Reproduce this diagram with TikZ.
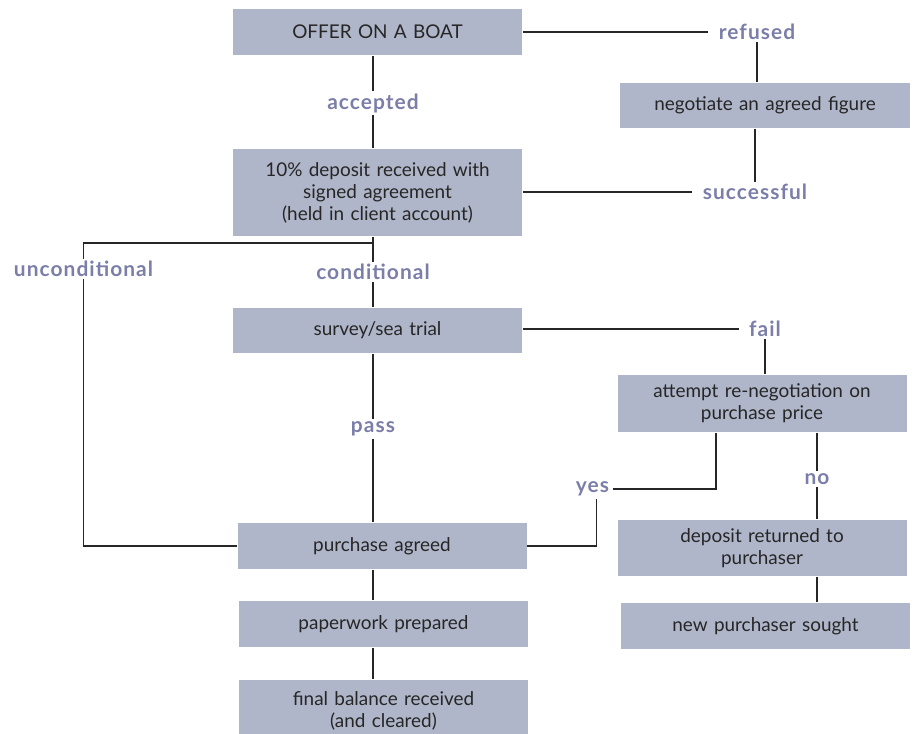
\documentclass[tikz,border=0pt]{standalone}
\usepackage{fontspec}
\setmainfont{Lato}
\newfontfamily\answerfont[LetterSpace=5]{Lato}
\usetikzlibrary{positioning}
\definecolor{boxgray}{RGB}{176,182,201}
\definecolor{labelblue}{RGB}{122,126,168}

\begin{document}
\begin{tikzpicture}[x=1bp,y=-1bp,line width=1.1bp,draw=black!85,
  stage/.style={fill=boxgray,text=black!85,text width=289bp,minimum height=46bp,
    align=center,inner sep=0pt,font=\fontsize{19}{22}\selectfont},
  answer/.style={text=labelblue,inner xsep=10bp,inner ysep=2bp,
    font=\fontsize{21}{22}\answerfont\bfseries}]
\useasboundingbox (0,0) rectangle (914,734);
% main column
\node[stage] (offer) at (377.5,32) {OFFER ON A BOAT};
\node[stage,minimum height=87bp] (deposit) at (377.5,192.5) {10\% deposit received with\\signed agreement\\(held in client account)};
\node[stage,minimum height=45bp] (survey) at (377.5,330.5) {survey/sea trial};
\node[stage] (purchase) at (382,546) {purchase agreed};
\node[stage] (paperwork) at (383.5,624) {paperwork prepared};
\node[stage,minimum height=62bp] (final) at (383.5,711) {final balance received\\(and cleared)};
% right column
\node[stage,text width=290bp,minimum height=45bp] (negotiate) at (765,105.5) {negotiate an agreed figure};
\node[stage,minimum height=57bp] (attempt) at (762,403.5) {attempt re-negotiation on\\purchase price};
\node[stage,minimum height=56bp] (returned) at (762,548) {deposit returned to\\purchaser};
\node[stage] (newbuyer) at (765.5,626) {new purchaser sought};
% answers
\node[answer] (refused) at (757,32) {refused};
\node[answer] (successful) at (755,192) {successful};
\node[answer] (accepted) at (373,103) {accepted};
\node[answer] (unconditional) at (83.5,269) {unconditional};
\node[answer] (conditional) at (373,272) {conditional};
\node[answer] (fail) at (765,329) {fail};
\node[answer] (pass) at (373,429) {pass};
\node[answer,inner xsep=3bp] (yes) at (592.5,489) {yes};
\node[answer] (no) at (817,479) {no};
\coordinate (split) at (373,243);
% connectors
\draw (offer.east) -- (refused.west);
\draw (refused.south) -- (refused.south |- negotiate.north);
\draw (successful.north |- negotiate.south) -- (successful.north);
\draw (successful.west -| deposit.east) -- (successful.west);
\draw (accepted.north |- offer.south) -- (accepted.north);
\draw (accepted.south) -- (accepted.south |- deposit.north);
\draw (split |- deposit.south) -- (split) -| (unconditional.north);
\draw (unconditional.south) |- (purchase.west);
\draw (split) -- (conditional.north);
\draw (conditional.south) -- (conditional.south |- survey.north);
\draw (fail.west -| survey.east) -- (fail.west);
\draw (fail.south) -- (fail.south |- attempt.north);
\draw (pass.north |- survey.south) -- (pass.north);
\draw (pass.south) -- (pass.south |- purchase.north);
\draw (pass |- purchase.south) -- (pass |- paperwork.north);
\draw (pass |- paperwork.south) -- (pass |- final.north);
\draw (yes.east) -| ([xshift=-46bp]attempt.south);
\draw ([xshift=4bp]yes.south) |- (purchase.east);
\draw (no.north |- attempt.south) -- (no.north);
\draw (no.south) -- (no.south |- returned.north);
\draw (no |- returned.south) -- (no |- newbuyer.north);
\end{tikzpicture}
\end{document}
